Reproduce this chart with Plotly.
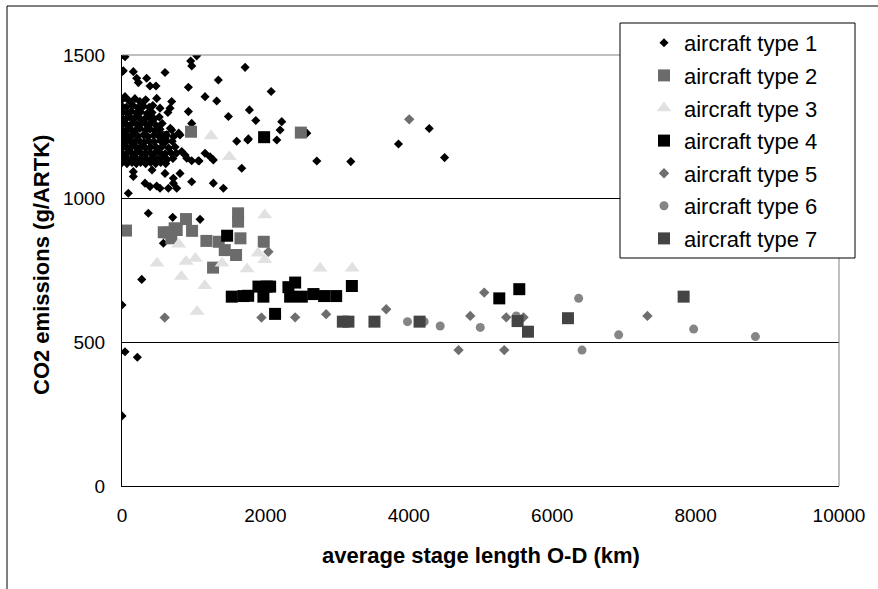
import plotly.graph_objects as go

# ---------------- data ----------------
# aircraft type 1 : sparse points
t1_sparse_x = [42, 1042, 958, 973, 0, 18, 158, 600, 1717, 205, 228, 344, 391, 474, 1344, 926,
               2080, 42, 484, 693, 1158, 1321, 670, 640, 926, 530, 1777, 1484, 1866, 2228,
               2205, 2159, 1763, 1600, 972, 693, 809, 833, 879, 903, 972, 1065, 1158, 1228,
               1274, 1670, 158, 158, 600, 809, 716, 972, 321, 391, 484, 530, 647, 763, 716,
               1274, 1414, 88, 2577, 2717, 3191, 3856, 4285, 4499, 1754, 1075, 367, 707,
               1089, 577, 275, 0, 42, 214, 0, 674, 791, 419]
t1_sparse_y = [1494, 1497, 1479, 1462, 1442, 1445, 1442, 1439, 1457, 1419, 1404, 1419, 1392,
               1392, 1413, 1388, 1373, 1355, 1349, 1338, 1355, 1340, 1315, 1300, 1303, 1315,
               1309, 1286, 1272, 1268, 1239, 1204, 1208, 1200, 1262, 1239, 1222, 1164, 1152,
               1141, 1132, 1132, 1158, 1146, 1135, 1106, 1094, 1077, 1088, 1088, 1071, 1059,
               1054, 1042, 1044, 1036, 1036, 1036, 1054, 1054, 1036, 1019, 1228, 1131, 1129,
               1190, 1244, 1143, 1204, 1131, 949, 935, 928, 845, 719, 630, 467, 448, 244,
               1245, 1228, 1100]
# aircraft type 1 : dense cluster near the origin
t1_dense_x = [0, 40, 100, 180, 250, 330,
              0, 60, 150, 220, 300, 380, 430,
              10, 80, 130, 200, 260, 350, 420,
              0, 50, 110, 170, 240, 310, 380, 450, 520,
              20, 70, 140, 210, 280, 340, 400, 470, 560,
              0, 60, 120, 190, 250, 330, 390, 460, 530,
              30, 90, 150, 220, 300, 360, 440, 510, 620, 720,
              0, 50, 110, 180, 240, 310, 380, 450, 540, 600, 700,
              20, 80, 140, 200, 270, 330, 400, 480, 560, 650, 740,
              0, 60, 120, 190, 250, 320, 390, 450, 520, 600, 680, 760,
              30, 90, 150, 210, 280, 350, 420, 490, 560, 630, 710,
              0, 70, 140, 200, 260, 330, 400, 470, 540, 610]
t1_dense_y = [1345, 1352, 1340, 1348, 1338, 1344,
              1322, 1318, 1325, 1316, 1322, 1318, 1324,
              1300, 1296, 1304, 1298, 1302, 1296, 1300,
              1280, 1276, 1284, 1278, 1282, 1276, 1282, 1278, 1284,
              1260, 1256, 1262, 1258, 1264, 1258, 1262, 1256, 1262,
              1240, 1236, 1242, 1238, 1244, 1238, 1242, 1236, 1242,
              1220, 1216, 1222, 1218, 1222, 1216, 1220, 1218, 1222, 1216,
              1200, 1196, 1202, 1198, 1202, 1196, 1200, 1198, 1202, 1196, 1200,
              1180, 1176, 1182, 1178, 1182, 1176, 1180, 1178, 1182, 1176, 1180,
              1160, 1156, 1162, 1158, 1162, 1156, 1160, 1158, 1162, 1156, 1160, 1158,
              1140, 1136, 1142, 1138, 1142, 1136, 1140, 1138, 1142, 1136, 1140,
              1125, 1122, 1126, 1122, 1126, 1122, 1126, 1122, 1126, 1122]

t2_x = [56, 893, 582, 734, 763, 977, 688, 647, 1177, 1349, 1433, 1619, 1619, 1652, 1591,
        1270, 1977, 963, 2494]
t2_y = [889, 929, 883, 897, 891, 888, 862, 882, 853, 850, 821, 949, 920, 862, 804,
        760, 850, 1233, 1230]

t3_x = [791, 489, 893, 1023, 828, 1154, 1396, 1745, 1898, 1991, 1991, 1047, 2763, 3210,
        1242, 1498]
t3_y = [841, 775, 781, 792, 729, 697, 775, 755, 810, 787, 943, 607, 758, 758,
        1218, 1146]

t4_x = [1466, 1531, 1693, 1760, 1903, 2019, 1972, 2066, 2321, 2415, 2345, 2508, 2670, 2819,
        2987, 3206, 2135, 5262, 5541, 577, 1982]
t4_y = [871, 659, 661, 662, 694, 694, 659, 694, 692, 708, 659, 659, 668, 661,
        661, 696, 599, 653, 685, 1214, 1214]

t5_x = [596, 1945, 2042, 2415, 2847, 3685, 5052, 4857, 5359, 5600, 4694, 5331, 7328, 4006]
t5_y = [586, 586, 815, 587, 598, 615, 673, 592, 587, 587, 473, 473, 592, 1276]

t6_x = [3982, 4215, 4438, 4997, 5499, 6369, 6416, 6927, 7973, 8834]
t6_y = [572, 572, 557, 552, 592, 653, 473, 526, 546, 520]

t7_x = [3080, 3158, 3521, 4150, 5517, 5662, 6220, 7833]
t7_y = [572, 572, 572, 572, 574, 537, 584, 659]

x_ticks = [0, 2000, 4000, 6000, 8000, 10000]
y_ticks = [0, 500, 1000, 1500]

# ---------------- figure ----------------
W, H = 878, 589
L, R, T, B = 122, 39, 55, 103

fig = go.Figure()

series = [
    ("aircraft type 1", t1_sparse_x + t1_dense_x, t1_sparse_y + t1_dense_y, "diamond", 7, "#000000"),
    ("aircraft type 2", t2_x, t2_y, "square", 12, "#6b6b6b"),
    ("aircraft type 3", t3_x, t3_y, "triangle-up", 13, "#e1e1e1"),
    ("aircraft type 4", t4_x, t4_y, "square", 12, "#000000"),
    ("aircraft type 5", t5_x, t5_y, "diamond", 8, "#6e6e6e"),
    ("aircraft type 6", t6_x, t6_y, "circle", 9, "#858585"),
    ("aircraft type 7", t7_x, t7_y, "square", 12, "#444444"),
]
for i, (name, xs, ys, sym, sz, col) in enumerate(series):
    fig.add_trace(go.Scatter(
        x=xs, y=ys, mode="markers", name=name, legendgroup=f"g{i}",
        marker=dict(symbol=sym, size=sz, color=col, line=dict(width=0)),
    ))

font_family = "Liberation Sans, Arial, sans-serif"

def px2paper_x(p):
    return (p - L) / (W - L - R)

def px2paper_y(p):
    return (H - B - p) / (H - T - B)

fig.update_layout(
    width=W, height=H, autosize=False,
    margin=dict(l=L, r=R, t=T, b=B, pad=0),
    paper_bgcolor="white", plot_bgcolor="white",
    font=dict(family=font_family, color="black", size=19),
    showlegend=True,
    legend=dict(
        x=px2paper_x(644), y=px2paper_y(22), xanchor="left", yanchor="top",
        bgcolor="rgba(0,0,0,0)", borderwidth=0,
        font=dict(size=22, family=font_family, color="black"),
        tracegroupgap=1,
    ),
    xaxis=dict(
        range=[0, 10000], tickvals=x_ticks, ticktext=[str(v) for v in x_ticks],
        showgrid=False, zeroline=False, showline=True, linecolor="black", linewidth=1,
        ticks="", ticklabelstandoff=12, tickfont=dict(size=19),
    ),
    yaxis=dict(
        range=[0, 1500], tickvals=y_ticks, ticktext=[str(v) for v in y_ticks],
        showgrid=True, gridcolor="black", gridwidth=1,
        zeroline=False, showline=True, linecolor="black", linewidth=1,
        ticks="", ticklabelstandoff=12, tickfont=dict(size=19),
    ),
    annotations=[
        dict(text="<b>average stage length O-D (km)</b>", xref="paper", yref="paper",
             x=0.5, y=px2paper_y(555), xanchor="center", yanchor="middle",
             showarrow=False, font=dict(size=22, family=font_family)),
        dict(text="<b>CO2 emissions (g/ARTK)</b>", xref="paper", yref="paper",
             x=px2paper_x(41), y=px2paper_y(265), xanchor="center", yanchor="middle",
             textangle=-90, showarrow=False, font=dict(size=22, family=font_family)),
    ],
    shapes=[
        # grey plot-area border (top and right)
        dict(type="line", xref="paper", yref="paper", x0=0, x1=1, y0=1, y1=1,
             line=dict(color="#808080", width=1), layer="above"),
        dict(type="line", xref="paper", yref="paper", x0=1, x1=1, y0=0, y1=1,
             line=dict(color="#808080", width=1)),
        # legend box
        dict(type="rect", xref="paper", yref="paper",
             x0=px2paper_x(620), x1=px2paper_x(855), y0=px2paper_y(258), y1=px2paper_y(23),
             line=dict(color="black", width=1), fillcolor="white", layer="above",
             opacity=1),
        # outer chart frame (left and top)
        dict(type="line", xref="paper", yref="paper", x0=px2paper_x(7), x1=px2paper_x(7),
             y0=px2paper_y(600), y1=px2paper_y(6), line=dict(color="black", width=1)),
        dict(type="line", xref="paper", yref="paper", x0=px2paper_x(7), x1=px2paper_x(900),
             y0=px2paper_y(6), y1=px2paper_y(6), line=dict(color="black", width=1)),
    ],
)

fig.write_html("out.html", config={"displayModeBar": False},
               post_script="document.body.style.margin='0';")
